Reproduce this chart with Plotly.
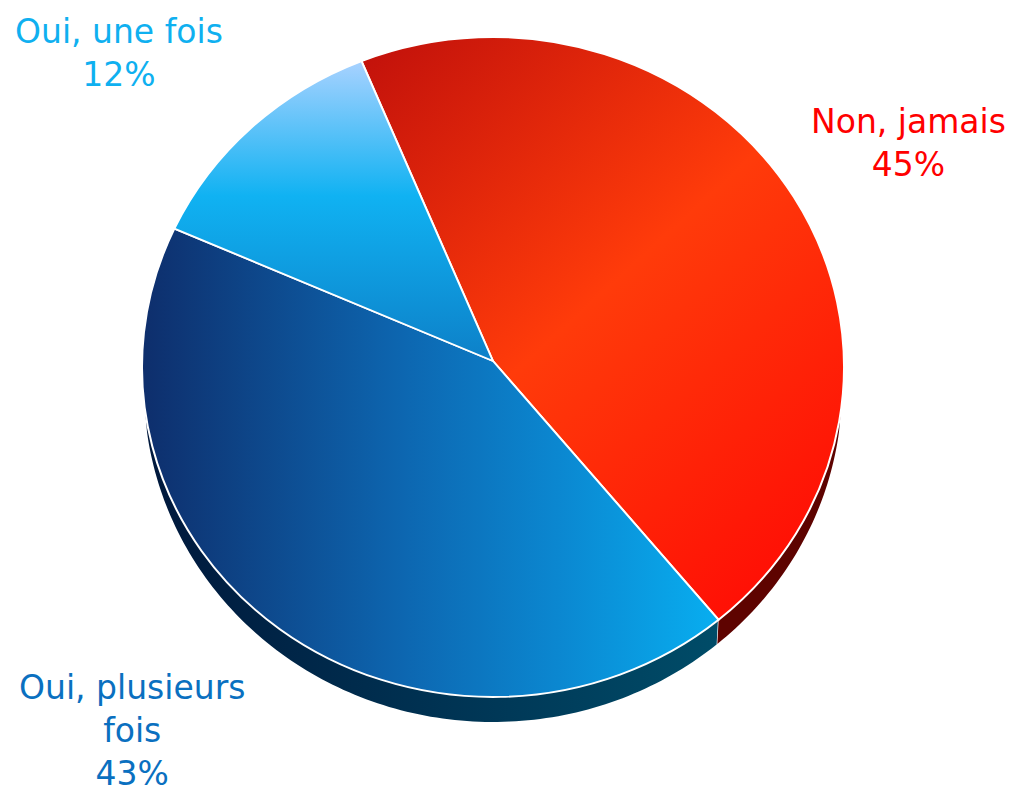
import math
import plotly.graph_objects as go

# Survey answers, clockwise from the slice start
labels = ["Non, jamais", "Oui, plusieurs<br>fois", "Oui, une fois"]
shares = [45, 43, 12]
label_colors = ["#ff0000", "#0a70c0", "#0fb0f0"]
flat_colors = ["#f03008", "#0d66b0", "#10b2f2"]

WIDTH, HEIGHT = 1013, 787
ROTATION = -22

# Disc geometry in page pixels
CX, CY, RX, RY = 493, 367, 351, 330
# The slices meet slightly above the disc centre because of the tilt
APEX_LIFT = 6
# Lower rim of the extruded edge
RX2, CY2, RY2 = 349, 388.3, 333.7
# The edge is only visible between these bearings
EDGE_START, EDGE_END = 97.5, 262.5


def rim_band(a0, a1):
    """Outline of the edge band between two clockwise bearings."""
    steps = max(2, int(abs(a1 - a0)))
    angles = [a0 + (a1 - a0) * i / steps for i in range(steps + 1)]
    xs = [CX + RX * math.sin(math.radians(a)) for a in angles]
    ys = [CY - RY * math.cos(math.radians(a)) for a in angles]
    xs += [CX + RX2 * math.sin(math.radians(a)) for a in reversed(angles)]
    ys += [CY2 - RY2 * math.cos(math.radians(a)) for a in reversed(angles)]
    return xs + xs[:1], ys + ys[:1]


seam = ROTATION + shares[0] * 3.6

fig = go.Figure()

red_x, red_y = rim_band(EDGE_START, seam)
fig.add_trace(go.Scatter(x=red_x, y=red_y, mode="none", fill="toself",
                         fillcolor="#5e0300", hoverinfo="skip", showlegend=False))
blue_x, blue_y = rim_band(seam + 0.15, EDGE_END)
fig.add_trace(go.Scatter(x=blue_x, y=blue_y, mode="none", fill="toself",
                         fillcolor="#002a4c", hoverinfo="skip", showlegend=False))

# A square domain keeps the pie at radius RX; it is flattened afterwards
fig.add_trace(go.Pie(
    labels=[l.replace("<br>", " ") for l in labels],
    values=shares,
    sort=False,
    direction="clockwise",
    rotation=ROTATION,
    textinfo="none",
    hoverinfo="skip",
    showlegend=False,
    marker=dict(colors=flat_colors, line=dict(color="#ffffff", width=2)),
    domain=dict(x=[(CX - RX) / WIDTH, (CX + RX) / WIDTH],
                y=[1 - (CY + RX) / HEIGHT, 1 - (CY - RX) / HEIGHT]),
))

label_pos = [(908, 100), (132, 666), (119, 10)]
annotations = [
    dict(text=f"{label}<br>{share}%", x=px / WIDTH, y=1 - py / HEIGHT,
         xref="paper", yref="paper", xanchor="center", yanchor="top",
         showarrow=False, align="center",
         font=dict(family="DejaVu Sans", size=33, color=color))
    for label, share, color, (px, py) in zip(labels, shares, label_colors, label_pos)
]

fig.update_layout(
    width=WIDTH, height=HEIGHT,
    margin=dict(l=0, r=0, t=0, b=0),
    paper_bgcolor="#ffffff", plot_bgcolor="#ffffff",
    xaxis=dict(range=[0, WIDTH], visible=False, fixedrange=True),
    yaxis=dict(range=[HEIGHT, 0], visible=False, fixedrange=True),
    annotations=annotations,
)

# Gradient fills and the tilt of the disc, applied to the drawn SVG
post_script = """
var gd = document.getElementById('{plot_id}');
var svg = gd.querySelector('.main-svg');
var ns = 'http://www.w3.org/2000/svg';
var defs = document.createElementNS(ns, 'defs');
svg.insertBefore(defs, svg.firstChild);
function grad(id, x2, y2, stops) {
  var g = document.createElementNS(ns, 'linearGradient');
  g.setAttribute('id', id);
  g.setAttribute('x1', 0); g.setAttribute('y1', 0);
  g.setAttribute('x2', x2); g.setAttribute('y2', y2);
  stops.forEach(function (s) {
    var st = document.createElementNS(ns, 'stop');
    st.setAttribute('offset', s[0]);
    st.setAttribute('stop-color', s[1]);
    g.appendChild(st);
  });
  defs.appendChild(g);
}
grad('gNon', 0.75, 1, [[0, '#c0100b'], [0.52, '#ff3b0a'], [1, '#ff1005']]);
grad('gPlus', 1, 0, [[0, '#0e2e6c'], [0.45, '#0d66b0'], [0.72, '#0b87d0'], [1, '#08aef0']]);
grad('gUne', 0, 1, [[0, '#a8d2ff'], [0.45, '#10b2f2'], [1, '#0d80c8']]);
grad('gEdge', 1, 0, [[0, '#00183c'], [1, '#004c68']]);
var ids = ['gNon', 'gPlus', 'gUne'];
var cy = %CY%, k = %RY% / %RX%, lift = %LIFT% / k;
var num = '(-?[0-9.]+(?:e-?[0-9]+)?)';
// Each slice path opens with: move to the centre, line to the rim
var opening = new RegExp('^M' + num + ',' + num + 'l' + num + ',' + num);
gd.querySelectorAll('.pielayer .slice path.surface').forEach(function (p, i) {
  p.style.fill = 'url(#' + ids[i] + ')';
  p.setAttribute('d', p.getAttribute('d').replace(opening, function (m, x, y, dx, dy) {
    return 'M' + x + ',' + (parseFloat(y) - lift) + 'l' + dx + ',' + (parseFloat(dy) + lift);
  }));
});
var fills = gd.querySelectorAll('.scatterlayer .js-fill');
if (fills.length > 1) fills[1].style.fill = 'url(#gEdge)';
gd.querySelector('.pielayer').setAttribute('transform',
  'translate(0,' + cy + ') scale(1,' + k + ') translate(0,' + (-cy) + ')');
""".replace("%CY%", str(CY)).replace("%RY%", str(RY)).replace("%RX%", str(RX)).replace("%LIFT%", str(APEX_LIFT))

fig.write_html("out.html", config={"displayModeBar": False}, post_script=post_script)
